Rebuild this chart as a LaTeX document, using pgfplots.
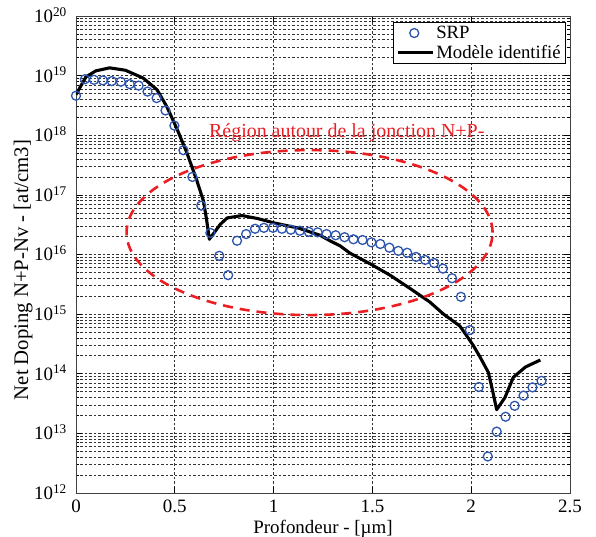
\documentclass[border=0pt]{standalone}
\usepackage{fontspec}
\setmainfont{Liberation Serif}
\usepackage{pgfplots}
\pgfplotsset{compat=1.18}
\usetikzlibrary{calc}
\definecolor{srpblue}{RGB}{45,85,175}
\definecolor{ellred}{RGB}{235,30,35}
\pgfplotsset{
  srpleg/.style={legend image code/.code={\path[draw=none,fill=none] (0bp,0bp) (33bp,0bp); \draw[##1] plot coordinates {(16.5bp,0bp)};}},
  lineleg/.style={legend image code/.code={\draw[##1] (0bp,0bp) -- (35bp,0bp);}},
}
\begin{document}
\begin{tikzpicture}[font=\fontsize{19}{22}\selectfont]
\begin{axis}[
  name=ax,
  scale only axis,
  width=494bp, height=477bp,
  ymode=log,
  xmin=0, xmax=2.5, ymin=1e12, ymax=1e20,
  xtick={0,0.5,1,1.5,2,2.5},
  xticklabels={0,0.5,1,1.5,2,2.5},
  ytick={1e12,1e13,1e14,1e15,1e16,1e17,1e18,1e19,1e20},
  yticklabels={10\textsuperscript{12},10\textsuperscript{13},10\textsuperscript{14},10\textsuperscript{15},10\textsuperscript{16},10\textsuperscript{17},10\textsuperscript{18},10\textsuperscript{19},10\textsuperscript{20}},
  minor ytick={2e12,3e12,4e12,5e12,6e12,7e12,8e12,9e12,
               2e13,3e13,4e13,5e13,6e13,7e13,8e13,9e13,
               2e14,3e14,4e14,5e14,6e14,7e14,8e14,9e14,
               2e15,3e15,4e15,5e15,6e15,7e15,8e15,9e15,
               2e16,3e16,4e16,5e16,6e16,7e16,8e16,9e16,
               2e17,3e17,4e17,5e17,6e17,7e17,8e17,9e17,
               2e18,3e18,4e18,5e18,6e18,7e18,8e18,9e18,
               2e19,3e19,4e19,5e19,6e19,7e19,8e19,9e19},
  xmajorgrids, ymajorgrids, yminorgrids,
  major grid style={dash pattern=on 2.5bp off 2bp, black!80, line width=0.6bp},
  minor grid style={dash pattern=on 2.5bp off 2bp, black!80, line width=0.6bp},
  tick align=inside,
  major tick length=6bp, minor tick length=3bp,
  tick style={black, line width=0.6bp},
  axis line style={black!75, line width=0.8bp},
  xticklabel style={anchor=base, inner sep=0pt, yshift=-20bp},
  yticklabel style={anchor=base east, inner sep=0pt, xshift=-9bp, yshift=-6.4bp},
  xlabel={Profondeur - [µm]},
  ylabel={Net Doping N+P-Nv - [at/cm3]},
  every axis x label/.style={at={(axis description cs:0.5,-0.0839)}, anchor=base},
  every axis y label/.style={at={(axis description cs:-0.107,0.4675)}, anchor=center, rotate=90, font=\fontsize{20.8}{24}\selectfont},
  legend style={at={(axis description cs:0.9919,0.988)}, anchor=north east,
    draw=black, line width=0.8bp, fill=white, inner xsep=3bp, inner ysep=2bp,
    row sep=1bp, font=\fontsize{18.8}{21}\selectfont},
  legend cell align=left,
]
\addplot[only marks, mark=o, mark size=4.5bp, srpblue, mark options={line width=1.3bp}, srpleg]
coordinates {
(0,4.6e18) (0.045,8.7e18) (0.091,8.5e18) (0.136,8.3e18) (0.181,8.1e18)
(0.227,7.9e18) (0.272,7.2e18) (0.317,6.8e18) (0.362,5.4e18) (0.408,4.2e18)
(0.453,2.6e18) (0.498,1.45e18) (0.544,5.6e17) (0.589,2.0e17) (0.634,6.6e16)
(0.680,2.3e16) (0.725,9.5e15) (0.770,4.5e15) (0.815,1.7e16) (0.861,2.2e16)
(0.906,2.7e16) (0.951,2.8e16) (0.997,2.8e16) (1.042,2.7e16) (1.087,2.6e16)
(1.133,2.5e16) (1.178,2.4e16) (1.223,2.35e16) (1.268,2.2e16) (1.314,2.1e16)
(1.359,1.95e16) (1.404,1.8e16) (1.450,1.75e16) (1.495,1.6e16) (1.540,1.5e16)
(1.586,1.3e16) (1.631,1.15e16) (1.676,1.07e16) (1.721,9.1e15) (1.767,8.1e15)
(1.812,7.2e15) (1.857,5.8e15) (1.903,4.0e15) (1.948,1.95e15) (1.993,5.4e14)
(2.039,6.0e13) (2.084,4.1e12) (2.129,1.07e13) (2.174,1.9e13) (2.220,2.9e13)
(2.265,4.3e13) (2.310,5.9e13) (2.356,7.6e13)
};
\addlegendentry{SRP}
\addplot[black, line width=3.1bp, no marks, line join=round, lineleg]
coordinates {
(0,4.8e18) (0.05,9.5e18) (0.1,1.2e19) (0.17,1.35e19) (0.25,1.23e19)
(0.34,9.1e18) (0.41,5.8e18) (0.46,3.0e18) (0.51,1.3e18) (0.56,5.2e17)
(0.61,1.8e17) (0.645,7.9e16) (0.66,4.0e16) (0.675,1.8e16) (0.73,3.2e16)
(0.765,4.1e16) (0.84,4.5e16) (0.92,4.0e16) (1.0,3.4e16) (1.13,2.75e16)
(1.235,2.1e16) (1.285,1.7e16) (1.336,1.4e16) (1.387,1.05e16) (1.488,7.0e15)
(1.589,4.5e15) (1.69,2.7e15) (1.79,1.6e15) (1.86,1.0e15) (1.943,6.3e14)
(1.98,4.2e14) (2.01,3.0e14) (2.045,1.9e14) (2.087,1.05e14) (2.104,6.0e13)
(2.129,2.5e13) (2.171,4.0e13) (2.213,8.7e13) (2.275,1.3e14) (2.35,1.7e14)
};
\addlegendentry{Modèle identifié}
\draw[ellred, line width=2.6bp, dash pattern=on 10bp off 7bp]
  (axis cs:1.182,2.33e16) ellipse [x radius=183bp, y radius=82.5bp];
\node[text=ellred, font=\fontsize{20}{24}\selectfont, anchor=base west, inner sep=0pt]
  at (axis cs:0.673,9.3e17) {Région autour de la jonction N+P-};
\end{axis}
\pgfresetboundingbox
\path[use as bounding box] ($(ax.south west)+(-76bp,-44bp)$) rectangle ($(ax.north east)+(26bp,16bp)$);
\end{tikzpicture}
\end{document}
